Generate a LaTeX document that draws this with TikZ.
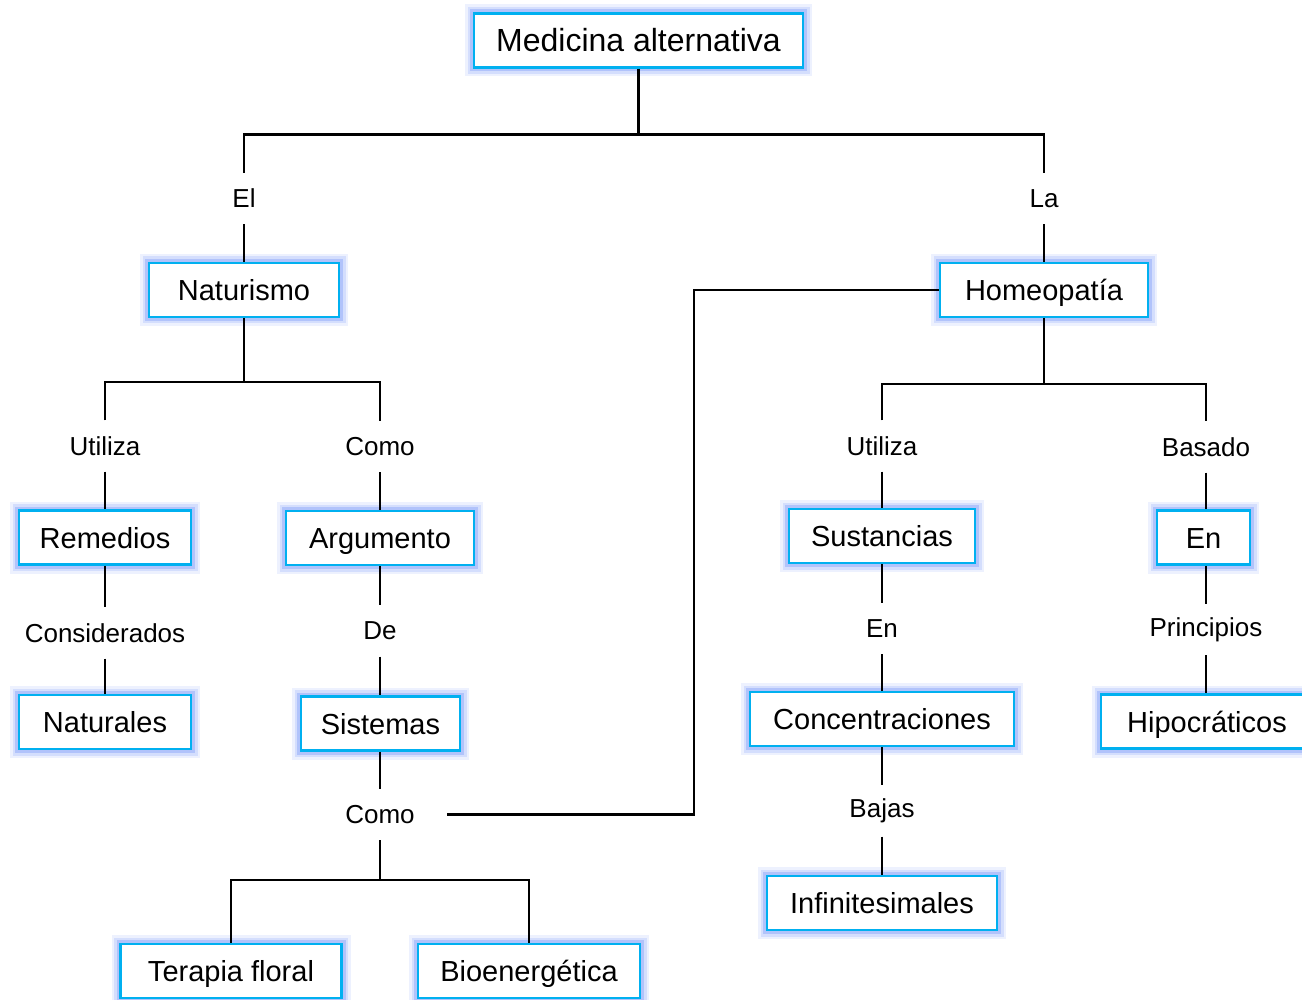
\documentclass[tikz,border=0pt]{standalone}
\usepackage{fontspec}
\setmainfont{Liberation Sans}
\definecolor{bordc}{RGB}{0,176,240}
\definecolor{glowc}{RGB}{80,120,245}
\tikzset{
  cbox/.style={draw=bordc, line width=2.4pt, fill=white, inner sep=0pt,
    minimum height=54pt, text height=22pt, text depth=1pt,
    font=\fontsize{29}{34}\selectfont,
    preaction={draw=glowc, line width=18pt, opacity=0.10},
    preaction={draw=glowc, line width=13pt, opacity=0.16},
    preaction={draw=glowc, line width=8pt, opacity=0.26}},
  lbl/.style={inner xsep=32pt, inner ysep=0pt, minimum height=51pt,
    font=\fontsize{26}{30}\selectfont},
  conn/.style={line width=2.4pt, black}
}
\begin{document}
\begin{tikzpicture}[x=1pt,y=-1pt]
\useasboundingbox (0,0) rectangle (1302,1000);
% boxes
\node[cbox, minimum width=329pt, text height=24pt, text depth=1pt, font=\fontsize{32}{38}\selectfont] (med) at (638.5,40.5) {Medicina alternativa};
\node[cbox, minimum width=190pt] (nat) at (244,290) {Naturismo};
\node[cbox, minimum width=208pt] (hom) at (1044,290) {Homeopatía};
\node[cbox, minimum width=172pt] (rem) at (105,537.5) {Remedios};
\node[cbox, minimum width=188pt] (arg) at (380,538) {Argumento};
\node[cbox, minimum width=186pt] (sus) at (882,536) {Sustancias};
\node[cbox, minimum width=93pt] (en) at (1203.5,537.5) {En};
\node[cbox, minimum width=172pt] (natu) at (105,722) {Naturales};
\node[cbox, minimum width=159pt] (sis) at (380.5,723.5) {Sistemas};
\node[cbox, minimum width=264pt] (con) at (882,719) {Concentraciones};
\node[cbox, minimum width=212pt] (hip) at (1207,721.5) {Hipocráticos};
\node[cbox, minimum width=230pt] (inf) at (882,903) {Infinitesimales};
\node[cbox, minimum width=221pt] (ter) at (231,971) {Terapia floral};
\node[cbox, minimum width=222pt] (bio) at (529,971) {Bioenergética};
% labels
\node[lbl] (el) at (244,198.5) {El};
\node[lbl] (la) at (1044,198.5) {La};
\node[lbl] (uti1) at (105,446) {Utiliza};
\node[lbl] (como1) at (380,446.5) {Como};
\node[lbl] (uti2) at (882,446) {Utiliza};
\node[lbl] (bas) at (1206,447) {Basado};
\node[lbl] (cons) at (105,633) {Considerados};
\node[lbl] (de) at (380,631) {De};
\node[lbl] (en2) at (882,628.5) {En};
\node[lbl] (pri) at (1206,629.5) {Principios};
\node[lbl] (como2) at (380,814.5) {Como};
\node[lbl] (baj) at (882,811) {Bajas};
% connectors
\draw[conn] (med.south) -- ++(0,66) coordinate (j1);
\draw[conn] (el.north) |- (j1) -| (la.north);
\draw[conn] (el.south) -- (el.south |- nat.north);
\draw[conn] (la.south) -- (hom.north);
\draw[conn] (nat.south) -- ++(0,64) coordinate (j2);
\draw[conn] (uti1.north) |- (j2) -| (como1.north);
\draw[conn] (uti1.south) -- (rem.north);
\draw[conn] (como1.south) -- (arg.north);
\draw[conn] (rem.south) -- (cons.north);
\draw[conn] (cons.south) -- (natu.north);
\draw[conn] (arg.south) -- (de.north);
\draw[conn] (de.south) -- (de.south |- sis.north);
\draw[conn] (sis.south -| como2) -- (como2.north);
\draw[conn] (como2.south) -- ++(0,40) coordinate (j3);
\draw[conn] (ter.north) |- (j3) -| (bio.north);
\draw[conn] (hom.west) -- (694,290) coordinate (k1) |- (como2.east);
\draw[conn] (hom.south) -- ++(0,66) coordinate (j4);
\draw[conn] (uti2.north) |- (j4) -| (bas.north);
\draw[conn] (uti2.south) -- (sus.north);
\draw[conn] (bas.south) -- (bas.south |- en.north);
\draw[conn] (sus.south) -- (en2.north);
\draw[conn] (en2.south) -- (con.north);
\draw[conn] (con.south) -- (baj.north);
\draw[conn] (baj.south) -- (inf.north);
\draw[conn] (en.south -| pri) -- (pri.north);
\draw[conn] (pri.south) -- (pri.south |- hip.north);
\end{tikzpicture}
\end{document}
